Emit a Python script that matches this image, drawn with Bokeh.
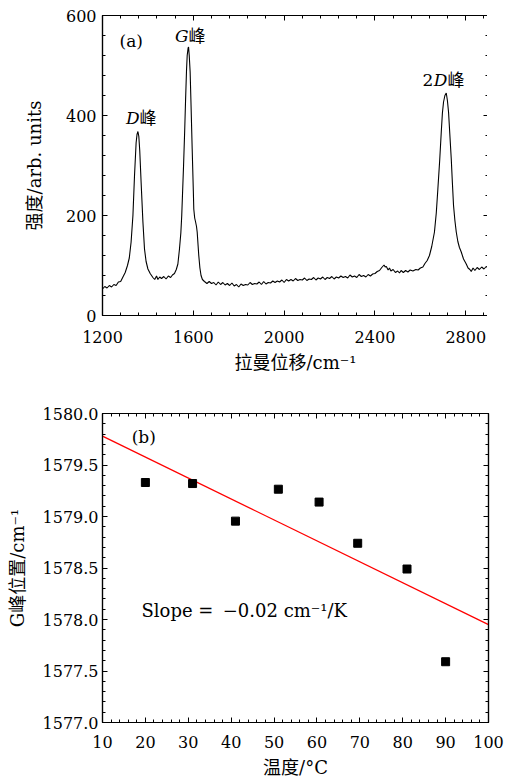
from bokeh.plotting import figure
from bokeh.models import (FixedTicker, LinearAxis, Range1d, CustomJSTickFormatter,
                          PrintfTickFormatter)
from bokeh.layouts import column
from bokeh.embed import file_html
from bokeh.resources import INLINE
from bokeh.core.properties import value

# ---------------- data: panel (a) Raman spectrum ----------------
raman_shift = [
    1200, 1210, 1220, 1230, 1240, 1250, 1260, 1270, 1280, 1290,
    1300, 1310, 1318, 1326, 1334, 1341, 1348, 1352, 1356, 1360,
    1364, 1370, 1378, 1385, 1392, 1400, 1410, 1422, 1430, 1438,
    1444, 1452, 1460, 1470, 1480, 1490, 1500, 1508, 1517, 1525,
    1532, 1539, 1545, 1549, 1557, 1562, 1566, 1570, 1573, 1577,
    1579, 1582, 1586, 1590, 1595, 1600, 1602, 1606, 1610, 1614,
    1617, 1621, 1624, 1629, 1634, 1640, 1649, 1660, 1670, 1680,
    1690, 1700, 1710, 1720, 1730, 1740, 1750, 1760, 1770, 1780,
    1790, 1800, 1810, 1820, 1830, 1840, 1850, 1860, 1870, 1880,
    1890, 1900, 1910, 1920, 1930, 1940, 1950, 1960, 1970, 1980,
    1990, 2000, 2010, 2020, 2030, 2040, 2050, 2060, 2070, 2080,
    2090, 2100, 2110, 2120, 2130, 2140, 2150, 2160, 2170, 2180,
    2190, 2200, 2210, 2220, 2230, 2240, 2250, 2260, 2270, 2280,
    2290, 2300, 2310, 2320, 2330, 2340, 2350, 2360, 2370, 2380,
    2390, 2400, 2410, 2420, 2430, 2440, 2445, 2450, 2458, 2464,
    2470, 2480, 2490, 2500, 2508, 2515, 2525, 2535, 2545, 2555,
    2567, 2580, 2590, 2600, 2611, 2620, 2630, 2640, 2650, 2662,
    2670, 2677, 2685, 2692, 2697, 2702, 2708, 2714, 2719, 2724,
    2730, 2736, 2741, 2746, 2752, 2758, 2765, 2772, 2780, 2790,
    2802, 2810, 2818, 2824, 2832, 2840, 2850, 2860, 2870, 2880,
    2890, 2900,
]
intensity = [
    53, 58, 55, 60, 57, 62, 60, 67, 68, 77,
    86, 100, 115, 147, 200, 280, 345, 362, 368, 358,
    330, 267, 187, 133, 108, 93, 84, 76, 72, 79,
    72, 77, 74, 78, 73, 79, 76, 81, 84, 92,
    103, 133, 165, 200, 300, 370, 433, 490, 520, 535,
    537, 520, 487, 420, 333, 250, 213, 195, 187, 178,
    167, 140, 120, 95, 80, 72, 68, 64, 68, 64,
    66, 61, 67, 62, 66, 61, 64, 60, 65, 59,
    62, 57, 63, 60, 62, 61, 66, 62, 64, 63,
    67, 62, 68, 63, 66, 65, 69, 66, 69, 67,
    71, 66, 72, 69, 72, 69, 74, 70, 72, 71,
    75, 70, 73, 72, 76, 71, 75, 73, 77, 72,
    76, 74, 78, 73, 77, 75, 79, 76, 78, 75,
    81, 77, 79, 76, 82, 78, 80, 77, 82, 79,
    83, 84, 88, 90, 96, 101, 97, 98, 91, 95,
    89, 92, 86, 89, 85, 90, 86, 90, 87, 91,
    89, 92, 91, 95, 97, 104, 110, 120, 138, 167,
    205, 253, 310, 367, 405, 427, 440, 445, 430, 407,
    360, 313, 265, 220, 190, 167, 148, 136, 127, 113,
    103, 95, 92, 88, 95, 90, 96, 92, 97, 93,
    98, 95,
]

# ---------------- data: panel (b) G-peak position vs temperature ----------------
temperature = [20, 31, 41, 51, 60.5, 69.5, 81, 90]
g_peak = [1579.33, 1579.32, 1578.955, 1579.265, 1579.14, 1578.74, 1578.49, 1577.59]
fit_temp = [10, 100]
fit_g = [1579.78, 1577.95]

# ---------------- ticks ----------------
xa_major = [1200, 1600, 2000, 2400, 2800]
xa_minor = [1200 + 80 * i for i in range(22)]
ya_major = [0, 200, 400, 600]
ya_minor = [40 * i for i in range(16)]
xb_major = [10, 20, 30, 40, 50, 60, 70, 80, 90, 100]
xb_minor = [10 + 2 * i for i in range(46)]
yb_major = [1577.0, 1577.5, 1578.0, 1578.5, 1579.0, 1579.5, 1580.0]
yb_minor = [round(1577 + 0.1 * i, 1) for i in range(31)]

FONT = "DejaVu Serif, Noto Sans CJK SC"
TICK_SIZE = "16px"
TITLE_SIZE = "18px"


def style_axis(ax, major, minor, labels=True):
    ax.ticker = FixedTicker(ticks=major, minor_ticks=minor)
    ax.axis_line_color = "black"
    ax.axis_line_width = 1.2
    ax.major_tick_in = 5
    ax.major_tick_out = 0
    ax.minor_tick_in = 3
    ax.minor_tick_out = 0
    ax.major_tick_line_color = "black"
    ax.minor_tick_line_color = "black"
    ax.major_label_text_font = FONT
    ax.major_label_text_font_size = TICK_SIZE
    ax.major_label_text_color = "black"
    ax.axis_label_text_font = FONT
    ax.axis_label_text_font_size = TITLE_SIZE
    ax.axis_label_text_font_style = "normal"
    ax.axis_label_text_color = "black"
    if not labels:
        ax.formatter = CustomJSTickFormatter(code="return ''")
        ax.major_label_standoff = 0


def make_fig(xr, yr, top, fh, bottom):
    p = figure(frame_width=386, frame_height=fh, min_border_left=40, min_border_right=16,
               min_border_top=top, min_border_bottom=bottom, x_range=xr, y_range=yr,
               output_backend="svg", toolbar_location=None)
    p.grid.visible = False
    p.outline_line_color = "black"
    p.outline_line_width = 1.2
    p.background_fill_color = "white"
    p.border_fill_color = "white"
    return p


# ---------------- panel (a) ----------------
p1 = make_fig(Range1d(1200, 2900), Range1d(0, 600), 15, 300, 62)
p1.line(raman_shift, intensity, color="black", line_width=1.1)
style_axis(p1.xaxis[0], xa_major, xa_minor)
style_axis(p1.yaxis[0], ya_major, ya_minor)
p1.xaxis[0].axis_label = "拉曼位移/cm⁻¹"
p1.yaxis[0].axis_label = "强度/arb. units"
p1.xaxis[0].major_label_standoff = 15
p1.xaxis[0].axis_label_standoff = 6
p1.yaxis[0].major_label_standoff = 6
p1.yaxis[0].axis_label_standoff = 18
ax_top = LinearAxis()
ax_right = LinearAxis()
p1.add_layout(ax_top, "above")
p1.add_layout(ax_right, "right")
style_axis(ax_top, xa_major, xa_minor, labels=False)
style_axis(ax_right, ya_major, ya_minor, labels=False)

ANN = "17px"
p1.text(x=[1275], y=[550], text=["(a)"], text_font=value(FONT), text_font_size=ANN,
        text_baseline="middle", text_align="left", text_color="black")
# italic letters and upright CJK
p1.text(x=[1579, 1363, 2719], y=[560, 396, 472], text=["G", "D", "D"], text_font=value(FONT),
        text_font_style="italic", text_font_size=ANN, text_baseline="middle",
        text_align="right", text_color="black")
p1.text(x=[1579, 1363, 2719], y=[560, 396, 472], text=["峰", "峰", "峰"], text_font=value(FONT),
        text_font_size=ANN, text_baseline="middle", text_align="left", text_color="black")
p1.text(x=[2719], y=[472], text=["2"], text_font=value(FONT), text_font_size=ANN,
        text_baseline="middle", text_align="right", x_offset=-14, text_color="black")

# ---------------- panel (b) ----------------
p2 = make_fig(Range1d(10, 100), Range1d(1577.0, 1580.0), 36, 309, 53)
p2.line(fit_temp, fit_g, color="#ff0000", line_width=1.3)
p2.scatter(temperature, g_peak, marker="square", size=8, color="black")
style_axis(p2.xaxis[0], xb_major, xb_minor)
style_axis(p2.yaxis[0], yb_major, yb_minor)
p2.yaxis[0].formatter = PrintfTickFormatter(format="%.1f")
p2.xaxis[0].axis_label = "温度/°C"
p2.yaxis[0].axis_label = "G峰位置/cm⁻¹"
p2.xaxis[0].major_label_standoff = 13
p2.xaxis[0].axis_label_standoff = 6
p2.yaxis[0].major_label_standoff = 4
p2.yaxis[0].axis_label_standoff = 12
bx_top = LinearAxis()
bx_right = LinearAxis()
p2.add_layout(bx_top, "above")
p2.add_layout(bx_right, "right")
style_axis(bx_top, xb_major, xb_minor, labels=False)
style_axis(bx_right, yb_major, yb_minor, labels=False)

p2.text(x=[16.8], y=[1579.77], text=["(b)"], text_font=value(FONT), text_font_size=ANN,
        text_baseline="middle", text_align="left", text_color="black")
p2.text(x=[19.1], y=[1578.09], text=["Slope = \u2009−0.02 cm⁻¹/K"], text_font=value(FONT),
        text_font_size="18px", text_baseline="middle", text_align="left", text_color="black")

layout = column(p1, p2, spacing=0, margin=(0, 0, 0, 3))
open("out.html", "w").write(file_html(layout, INLINE))
